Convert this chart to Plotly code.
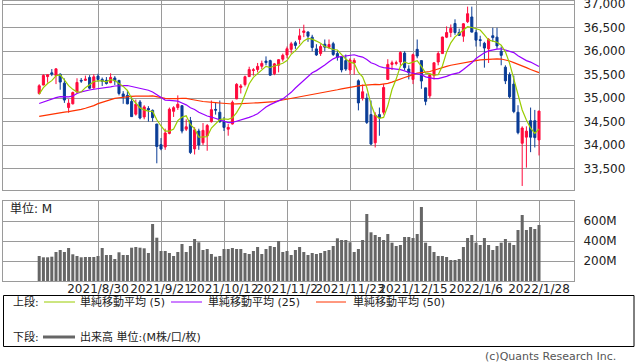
import plotly.graph_objects as go
import numpy as np

# ---------------- data ----------------
dates = [
    "2021-08-10", "2021-08-11", "2021-08-12", "2021-08-13", "2021-08-16", "2021-08-17", "2021-08-18",
    "2021-08-19", "2021-08-20", "2021-08-23", "2021-08-24", "2021-08-25", "2021-08-26", "2021-08-27",
    "2021-08-30", "2021-08-31", "2021-09-01", "2021-09-02", "2021-09-03", "2021-09-07", "2021-09-08",
    "2021-09-09", "2021-09-10", "2021-09-13", "2021-09-14", "2021-09-15", "2021-09-16", "2021-09-17", "2021-09-20",
    "2021-09-21", "2021-09-22", "2021-09-23", "2021-09-24", "2021-09-27", "2021-09-28", "2021-09-29",
    "2021-09-30", "2021-10-01", "2021-10-04", "2021-10-05", "2021-10-06", "2021-10-07", "2021-10-08", "2021-10-11",
    "2021-10-12", "2021-10-13", "2021-10-14", "2021-10-15", "2021-10-18", "2021-10-19", "2021-10-20",
    "2021-10-21", "2021-10-22", "2021-10-25", "2021-10-26", "2021-10-27", "2021-10-28", "2021-10-29", "2021-11-01",
    "2021-11-02", "2021-11-03", "2021-11-04", "2021-11-05", "2021-11-08", "2021-11-09", "2021-11-10",
    "2021-11-11", "2021-11-12", "2021-11-15", "2021-11-16", "2021-11-17", "2021-11-18", "2021-11-19", "2021-11-22",
    "2021-11-23", "2021-11-24", "2021-11-26", "2021-11-29", "2021-11-30", "2021-12-01", "2021-12-02",
    "2021-12-03", "2021-12-06", "2021-12-07", "2021-12-08", "2021-12-09", "2021-12-10", "2021-12-13", "2021-12-14",
    "2021-12-15", "2021-12-16", "2021-12-17", "2021-12-20", "2021-12-21", "2021-12-22", "2021-12-23",
    "2021-12-27", "2021-12-28", "2021-12-29", "2021-12-30", "2021-12-31", "2022-01-03", "2022-01-04", "2022-01-05",
    "2022-01-06", "2022-01-07", "2022-01-10", "2022-01-11", "2022-01-12", "2022-01-13", "2022-01-14",
    "2022-01-18", "2022-01-19", "2022-01-20", "2022-01-21", "2022-01-24", "2022-01-25", "2022-01-26", "2022-01-27",
    "2022-01-28",
]

open_ = [
    35101, 35280, 35460, 35540, 35480, 35510, 35320, 34800, 34880, 35130, 35380, 35380, 35440, 35220,
    35470, 35400, 35380, 35330, 35430, 35380, 35090, 35060, 34930, 34660, 34920, 34600, 34780, 34740, 34450,
    34010, 33960, 34250, 34720, 34800, 34840, 34340, 34520, 33920, 34300, 34050, 34200, 34500, 34760, 34700,
    34500, 34340, 34450, 34985, 35230, 35290, 35460, 35590, 35610, 35680, 35790, 35800, 35520, 35700, 35830,
    35920, 36040, 36180, 36250, 36400, 36410, 36300, 36050, 35950, 36150, 36080, 36160, 35950, 35880, 35800,
    35600, 35750, 35370, 35000, 35000, 34650, 34050, 34650, 34700, 35400, 35720, 35740, 35770, 35960, 35620,
    35400, 36040, 35800, 35220, 35050, 35480, 35770, 35950, 36300, 36400, 36590, 36400, 36320, 36630, 36730,
    36400, 36245, 36170, 36050, 36330, 36300, 36000, 35660, 35500, 35300, 34700, 34040, 34170, 34520, 34520,
    34110,
]
high = [
    35297, 35510, 35502, 35620, 35631, 35530, 35420, 34980, 35140, 35424, 35430, 35480, 35490, 35510,
    35520, 35440, 35450, 35530, 35470, 35380, 35150, 35150, 35050, 34970, 34960, 34850, 34830, 34760, 34450,
    34150, 34350, 34800, 34830, 35060, 34850, 34550, 34600, 34380, 34350, 34470, 34450, 34950, 34900, 34950,
    34600, 34450, 34950, 35320, 35300, 35480, 35670, 35640, 35750, 35800, 35890, 35820, 35750, 35830, 35950,
    36100, 36200, 36220, 36480, 36565, 36420, 36350, 36150, 36150, 36250, 36250, 36200, 36000, 35900, 35930,
    35850, 35850, 35400, 35290, 35100, 34950, 34700, 34800, 35300, 35830, 35800, 35800, 36000, 36000, 35700,
    35950, 36250, 35800, 35220, 35500, 35760, 36000, 36310, 36530, 36570, 36680, 36480, 36600, 36950, 36950,
    36460, 36330, 36200, 36280, 36500, 36500, 36100, 35700, 35550, 35480, 34850, 34400, 34400, 34800, 34750,
    34730,
]
low = [
    35076, 35273, 35330, 35470, 35300, 35180, 34900, 34690, 34866, 35120, 35325, 35366, 35190, 35200,
    35350, 35260, 35290, 35320, 35280, 35060, 34880, 34870, 34600, 34630, 34550, 34550, 34500, 34500, 33613,
    33890, 33900, 34230, 34600, 34750, 34250, 34300, 33810, 33800, 33900, 34000, 33880, 34480, 34650, 34480,
    34300, 34200, 34440, 34980, 35100, 35250, 35450, 35480, 35550, 35620, 35700, 35480, 35490, 35550, 35780,
    35850, 35950, 36050, 36150, 36300, 36200, 36000, 35900, 35900, 36000, 36050, 35900, 35800, 35550, 35580,
    35500, 35500, 34740, 34950, 34450, 34000, 33950, 34200, 34650, 35400, 35600, 35700, 35700, 35600, 35400,
    35300, 35850, 35200, 34850, 35000, 35400, 35700, 35950, 36280, 36300, 36350, 36330, 36200, 36600, 36400,
    36100, 36100, 35650, 35750, 36200, 36050, 35700, 35300, 35000, 34680, 34230, 33130, 33520, 33850, 33950,
    33780,
]
close = [
    35264, 35484, 35499, 35515, 35625, 35343, 34960, 34894, 35120, 35335, 35366, 35405, 35213, 35455,
    35399, 35361, 35312, 35443, 35369, 35100, 35031, 34879, 34607, 34869, 34577, 34814, 34751, 34584, 33970,
    33919, 34258, 34765, 34798, 34870, 34299, 34390, 33844, 34326, 34002, 34314, 34417, 34755, 34746, 34496,
    34378, 34377, 34912, 35295, 35259, 35457, 35609, 35603, 35677, 35741, 35757, 35491, 35731, 35820, 35913,
    36053, 36158, 36124, 36328, 36432, 36320, 36080, 35921, 36100, 36087, 36143, 35931, 35871, 35602, 35620,
    35814, 35804, 34899, 35136, 34484, 34022, 34640, 34580, 35227, 35719, 35754, 35754, 35971, 35650, 35544,
    35927, 35898, 35365, 34932, 35493, 35754, 35951, 36302, 36398, 36488, 36398, 36338, 36585, 36799, 36407,
    36236, 36231, 36068, 36252, 36290, 36113, 35912, 35369, 35029, 34715, 34265, 34364, 34298, 34168, 34160,
    34725,
]
# closes of the 49 sessions before the first drawn candle (needed for the moving averages)
prior_close = [
    34575, 34600, 34577, 34756, 34630, 34600, 34447, 34466, 34480, 34394, 34299, 34033, 33823, 33290,
    33877, 33945, 33874, 34196, 34434, 34283, 34292, 34503, 34634, 34786, 34577, 34681, 34422, 34870,
    34996, 34889, 34933, 34987, 34688, 33962, 34512, 34798, 34823, 35062, 35145, 35059, 34930, 35085,
    34935, 34838, 35117, 34793, 35065, 35209, 35102,
]
volume_m = [
    250, 237, 237, 243, 290, 310, 290, 330, 267, 250, 237, 240, 240, 240,
    250, 330, 260, 260, 220, 287, 260, 260, 333, 340, 333, 327, 280, 570, 433,
    300, 300, 280, 250, 290, 370, 290, 350, 420, 387, 310, 320, 270, 243, 250,
    320, 320, 330, 320, 320, 280, 270, 300, 340, 270, 320, 350, 340, 400, 290,
    300, 260, 310, 340, 290, 260, 280, 270, 280, 300, 310, 350, 427, 410, 410,
    387, 290, 320, 410, 670, 487, 460, 440, 410, 470, 383, 350, 360, 440, 440,
    430, 470, 740, 383, 350, 290, 250, 250, 240, 210, 210, 220, 340, 430, 460,
    383, 360, 430, 360, 310, 350, 383, 420, 383, 360, 510, 660, 510, 540, 520,
    560,
]
tick_dates = ["2021-08-30", "2021-09-21", "2021-10-12", "2021-11-02", "2021-11-23",
              "2021-12-15", "2022-01-06", "2022-01-28"]
tick_labels = ["2021/8/30", "2021/9/21", "2021/10/12", "2021/11/2", "2021/11/23",
               "2021/12/15", "2022/1/6", "2022/1/28"]
price_ticks = [33500, 34000, 34500, 35000, 35500, 36000, 36500, 37000]
vol_ticks = [200, 400, 600]

# ---------------- derived ----------------
n = len(dates)
xs = list(range(n))
full_close = np.array(prior_close + close, dtype=float)
k0 = len(prior_close)


def sma(w):
    out = []
    for i in range(n):
        j = k0 + i
        out.append(full_close[j - w + 1:j + 1].mean())
    return out


ma5, ma25, ma50 = sma(5), sma(25), sma(50)
tickvals = [dates.index(d) for d in tick_dates]

RED = "#FF0A3C"
BLUE = "#0A3C96"
GRID = "#9a9a9a"
FONT = "DejaVu Sans, Noto Sans CJK JP, sans-serif"

fig = go.Figure()
fig.add_trace(go.Candlestick(
    x=xs, open=open_, high=high, low=low, close=close,
    increasing=dict(line=dict(color=RED, width=1), fillcolor=RED),
    decreasing=dict(line=dict(color=BLUE, width=1), fillcolor=BLUE),
    whiskerwidth=0, xaxis="x", yaxis="y", showlegend=False, hoverinfo="skip",
))
fig.add_trace(go.Scatter(x=xs, y=ma50, mode="lines", line=dict(color="#FF3300", width=1.2),
                         xaxis="x", yaxis="y", showlegend=False))
fig.add_trace(go.Scatter(x=xs, y=ma25, mode="lines", line=dict(color="#9900FF", width=1.2),
                         xaxis="x", yaxis="y", showlegend=False))
fig.add_trace(go.Scatter(x=xs, y=ma5, mode="lines", line=dict(color="#99CC00", width=1.2),
                         xaxis="x", yaxis="y", showlegend=False))
fig.add_trace(go.Bar(x=xs, y=volume_m, marker=dict(color="#666666", line=dict(width=0)),
                     xaxis="x2", yaxis="y2", showlegend=False))

L, R, T, B = 3, 64, 1, 81
W, H = 638, 362
pw, ph = W - L - R, H - T - B


def px(x):
    return (x - L) / pw


def py(y):
    return (H - B - y) / ph


xr = [(3 - 98) / 4.2 + 14, (574 - 98) / 4.2 + 14]

common_x = dict(range=xr, showgrid=True, gridcolor=GRID, gridwidth=1, tickvals=tickvals,
                showline=True, linecolor=GRID, linewidth=1, mirror=True, zeroline=False,
                ticks="", fixedrange=True, automargin=False, tickangle=0)
common_y = dict(side="right", showgrid=True, gridcolor=GRID, showline=True, linecolor=GRID,
                mirror=True, zeroline=False, ticks="outside", ticklen=6,
                tickcolor="rgba(0,0,0,0)", tickfont=dict(size=12, color="#222222"),
                fixedrange=True, automargin=False, ticklabeloverflow="allow")
fig.update_layout(
    width=W, height=H, margin=dict(l=L, r=R, t=T, b=B, autoexpand=False),
    paper_bgcolor="white", plot_bgcolor="white",
    font=dict(family=FONT, size=12, color="#222222"),
    bargap=0.28,
    xaxis=dict(domain=[0, 1], anchor="y", showticklabels=False, rangeslider=dict(visible=False),
               **common_x),
    xaxis2=dict(domain=[0, 1], anchor="y2", matches="x", showticklabels=True, ticktext=tick_labels,
                tickfont=dict(size=12, color="#222222"), ticklabelstandoff=-3, **common_x),
    yaxis=dict(domain=[py(190), 1], range=[33044, 37070], tickvals=price_ticks,
               ticktext=[f"{v:,}" for v in price_ticks], **common_y),
    yaxis2=dict(domain=[0, py(201)], range=[0, 800], tickvals=vol_ticks,
                ticktext=[f"{v}M" for v in vol_ticks], **common_y),
)

shapes = [
    dict(type="rect", xref="paper", yref="paper", x0=px(3.5), x1=px(634), y0=py(295.5), y1=py(346.5),
         line=dict(color="#000000", width=1)),
    dict(type="line", xref="paper", yref="paper", x0=px(44), x1=px(75), y0=py(302), y1=py(302),
         line=dict(color="#99CC00", width=1)),
    dict(type="line", xref="paper", yref="paper", x0=px(171), x1=px(202), y0=py(302), y1=py(302),
         line=dict(color="#9900FF", width=1)),
    dict(type="line", xref="paper", yref="paper", x0=px(316), x1=px(346), y0=py(302), y1=py(302),
         line=dict(color="#FF3300", width=1)),
    dict(type="line", xref="paper", yref="paper", x0=px(43), x1=px(75), y0=py(337), y1=py(337),
         line=dict(color="#666666", width=3)),
]
fig.update_layout(shapes=shapes)

ann = [
    ("単位: M", 8, 209, 12, "left", "#222222"),
    ("上段:", 11, 302, 11, "left", "#222222"),
    ("単純移動平均 (5)", 78, 302, 11, "left", "#222222"),
    ("単純移動平均 (25)", 206, 302, 11, "left", "#222222"),
    ("単純移動平均 (50)", 351, 302, 11, "left", "#222222"),
    ("下段:", 11, 337, 11, "left", "#222222"),
    ("出来高 単位:(M株/口/枚)", 78, 337, 11, "left", "#222222"),
    ("(c)Quants Research Inc.", 618, 356, 11, "right", "#555555"),
]
for text, x, y, size, anchor, col in ann:
    fig.add_annotation(text=text, xref="paper", yref="paper", x=px(x), y=py(y), xanchor=anchor,
                       yanchor="middle", showarrow=False, font=dict(size=size, color=col, family=FONT))

fig.write_html("out.html", config={"displayModeBar": False},
               post_script="document.body.style.margin='0';document.body.style.overflow='hidden';")
